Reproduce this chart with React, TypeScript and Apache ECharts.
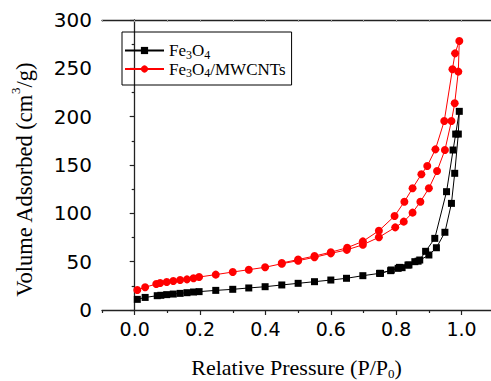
import React, { useEffect, useRef } from 'react';
import * as echarts from 'echarts';

// N2 adsorption–desorption isotherms: adsorption branch followed by desorption branch
const fe3o4Pressure = [
  0.008, 0.032, 0.069, 0.08, 0.098, 0.118, 0.139, 0.16, 0.18, 0.197, 0.248, 0.3, 0.349, 0.399, 0.45,
  0.5, 0.55, 0.6, 0.648, 0.698, 0.749, 0.783, 0.806, 0.818, 0.839, 0.867, 0.9, 0.923, 0.949, 0.969,
  0.979, 0.99, 0.993,
  0.982, 0.974, 0.954, 0.918, 0.89, 0.872, 0.857, 0.836, 0.81, 0.785, 0.752,
];
const fe3o4Volume = [
  11, 13, 14.8, 15.2, 15.9, 16.5, 17.2, 17.9, 18.6, 19, 20.3, 21.4, 22.8, 24.1, 25.9,
  27.6, 29.3, 31, 32.8, 35.5, 37.9, 40.7, 43.1, 43.8, 46.6, 50.5, 56.9, 64.4, 80.4, 110.3,
  141.4, 182, 205.5,
  182, 165.5, 122.4, 74.1, 60.7, 51.7, 50, 46.5, 44.1, 41.4, 37.9,
];
const compositePressure = [
  0.008, 0.032, 0.066, 0.078, 0.098, 0.118, 0.139, 0.16, 0.18, 0.197, 0.248, 0.3, 0.349, 0.399, 0.45,
  0.5, 0.55, 0.6, 0.649, 0.698, 0.747, 0.797, 0.823, 0.85, 0.874, 0.9, 0.925, 0.949, 0.969, 0.979,
  0.99, 0.993,
  0.98, 0.972, 0.947, 0.92, 0.895, 0.877, 0.85, 0.825, 0.795, 0.747, 0.698, 0.65, 0.6, 0.55, 0.5, 0.45,
];
const compositeVolume = [
  20.7, 23.5, 26.9, 27.9, 29, 30, 31, 31.7, 32.8, 34.1, 36.6, 39.3, 41.7, 44.2, 47.9,
  51, 54.5, 58.6, 62.2, 67.5, 75.2, 85.5, 91.4, 100.7, 112, 125.9, 143.8, 165.5, 195.5, 213.8,
  246.6, 278.3,
  265.5, 249, 195.5, 166.2, 149, 140.4, 125.9, 112, 97.2, 82, 71, 64.4, 59.8, 55.8, 52.2, 48.6,
];

const seriesNames = ['Fe3O4', 'Fe3O4/MWCNTs'];
const xMajorTicks = [0, 0.2, 0.4, 0.6, 0.8, 1.0];
const xMinorTicks = [-0.1, 0.1, 0.3, 0.5, 0.7, 0.9];
const xTopTicks = [-0.1, 0, 0.1, 0.2, 0.3, 0.4, 0.5, 0.6, 0.7, 0.8, 0.9, 1.0];

const pairs = (xs: number[], ys: number[]) => xs.map((x, i) => [x, ys[i]]);

const SERIF = "'Liberation Serif', 'Times New Roman', serif";
const SANS = "'DejaVu Sans', sans-serif";
const AXIS_COLOR = '#222';
const X_MIN = -0.1;
const X_MAX = 1.09;

export default function App() {
  const ref = useRef<HTMLDivElement>(null);

  useEffect(() => {
    if (!ref.current) return;
    const chart = echarts.init(ref.current, null, { renderer: 'svg' });

    const legendRich = {
      a: { fontFamily: SERIF, fontSize: 17, lineHeight: 20, color: '#000' },
      s: { fontFamily: SERIF, fontSize: 12, lineHeight: 8, verticalAlign: 'bottom', color: '#000' },
    };
    const chem = (name: string) =>
      name === 'Fe3O4'
        ? '{a|Fe}{s|3}{a|O}{s|4}'
        : '{a|Fe}{s|3}{a|O}{s|4}{a|/MWCNTs}';

    chart.setOption({
      animation: false,
      grid: { left: 102, right: 0, top: 20, bottom: 71, outerBoundsMode: 'none', containLabel: false },
      legend: {
        data: seriesNames,
        orient: 'vertical',
        left: 122,
        top: 32,
        itemWidth: 39,
        itemHeight: 9,
        itemGap: 0,
        padding: [10, 6, 6, 2],
        borderColor: '#000',
        borderWidth: 1,
        borderRadius: 0,
        selectedMode: false,
        formatter: chem,
        textStyle: { fontFamily: SERIF, fontSize: 17, color: '#000', rich: legendRich },
      },
      // rotated y-axis title
      graphic: [
        {
          type: 'text',
          x: 24,
          y: 180,
          rotation: Math.PI / 2,
          silent: true,
          style: {
            text: '{t|Volume Adsorbed (cm}{u|3}{t|/g)}',
            align: 'center',
            verticalAlign: 'middle',
            fill: '#000',
            font: `22.5px ${SERIF}`,
            rich: {
              t: { fontFamily: SERIF, fontSize: 22.5, lineHeight: 30, fill: '#000' },
              u: { fontFamily: SERIF, fontSize: 13, lineHeight: 13, verticalAlign: 'top', fill: '#000' },
            },
          },
        },
      ],
      xAxis: [
        {
          type: 'value',
          position: 'bottom',
          min: X_MIN,
          max: X_MAX,
          axisLine: { lineStyle: { color: AXIS_COLOR, width: 1.3 } },
          axisTick: { customValues: xMajorTicks, length: 5, lineStyle: { color: AXIS_COLOR, width: 1.2 } },
          axisLabel: {
            customValues: xMajorTicks,
            formatter: (v: number) => v.toFixed(1),
            fontFamily: SANS,
            fontSize: 19,
            color: '#000',
            margin: 9,
          },
          splitLine: { show: false },
          name: '{t|Relative Pressure (P/P}{s|0}{t|)}',
          nameLocation: 'middle',
          nameGap: 44,
          nameTextStyle: {
            fontFamily: SERIF,
            fontSize: 22,
            color: '#000',
            rich: {
              t: { fontFamily: SERIF, fontSize: 22, lineHeight: 26, color: '#000' },
              s: { fontFamily: SERIF, fontSize: 13, lineHeight: 8, verticalAlign: 'bottom', color: '#000' },
            },
          },
        },
        {
          type: 'value',
          position: 'bottom',
          min: X_MIN,
          max: X_MAX,
          axisLine: { show: false },
          axisTick: { customValues: xMinorTicks, length: 3, lineStyle: { color: AXIS_COLOR, width: 1.2 } },
          axisLabel: { show: false },
          splitLine: { show: false },
        },
        {
          type: 'value',
          position: 'top',
          min: X_MIN,
          max: X_MAX,
          axisLine: { lineStyle: { color: AXIS_COLOR, width: 1.3 } },
          axisTick: { customValues: xTopTicks, inside: true, length: 2, lineStyle: { color: '#999', width: 1 } },
          axisLabel: { show: false },
          splitLine: { show: false },
        },
      ],
      yAxis: {
        type: 'value',
        min: 0,
        max: 300,
        interval: 50,
        axisLine: { show: true, lineStyle: { color: AXIS_COLOR, width: 1.3 } },
        axisTick: { show: true, length: 5, lineStyle: { color: AXIS_COLOR, width: 1.2 } },
        minorTick: { show: true, splitNumber: 2, length: 3, lineStyle: { color: AXIS_COLOR, width: 1.2 } },
        axisLabel: { fontFamily: SANS, fontSize: 20, color: '#000', margin: 10 },
        splitLine: { show: false },
      },
      series: [
        {
          name: seriesNames[0],
          type: 'line',
          xAxisIndex: 0,
          data: pairs(fe3o4Pressure, fe3o4Volume),
          symbol: 'rect',
          symbolSize: 7,
          itemStyle: { color: '#000' },
          lineStyle: { color: '#000', width: 1 },
          z: 3,
        },
        {
          name: seriesNames[1],
          type: 'line',
          xAxisIndex: 0,
          data: pairs(compositePressure, compositeVolume),
          symbol: 'circle',
          symbolSize: 8,
          itemStyle: { color: '#ff0000' },
          lineStyle: { color: '#ff0000', width: 1 },
          z: 2,
        },
      ],
    });

    return () => chart.dispose();
  }, []);

  return (
    <div
      ref={ref}
      style={{ position: 'absolute', left: 0, top: 0, width: 491, height: 381 }}
    />
  );
}
